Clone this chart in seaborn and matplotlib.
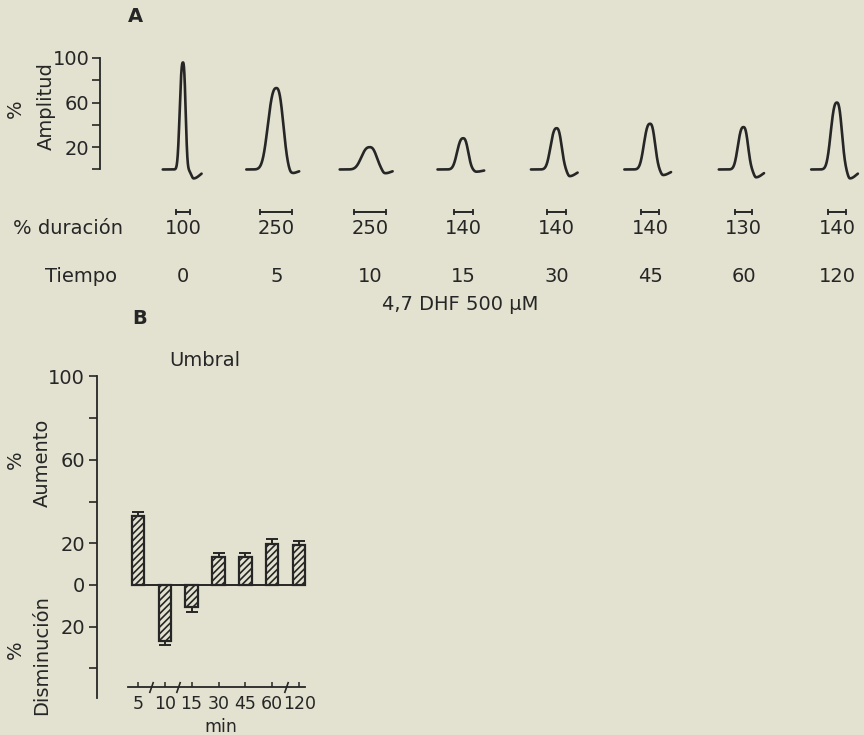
import numpy as np
import pandas as pd
import matplotlib
matplotlib.use("Agg")
import matplotlib.pyplot as plt
import seaborn as sns
from matplotlib.transforms import blended_transform_factory
from matplotlib.path import Path

# ---------------- data ----------------
# Panel A: action potentials after 4,7 DHF 500 uM
times = ["0", "5", "10", "15", "30", "45", "60", "120"]
amplitude = [96, 73, 20, 28, 37, 41, 38, 60]          # % amplitud
duration = [100, 250, 250, 140, 140, 140, 130, 140]   # % duración
undershoot = [8, 3.5, 3.5, 2, 6, 5, 7, 8]             # after-hyperpolarisation (%)

# Panel B: threshold change (Umbral)
thr_times = ["5", "10", "15", "30", "45", "60", "120"]
thr_change = [33, -27, -10.5, 13.3, 13.5, 19.8, 19.3]
thr_err = [1.9, 1.9, 2.4, 1.9, 1.9, 2.4, 1.6]

# ---------------- style ----------------
BG = "#e3e1cf"
INK = "#262626"
W, H = 864, 735

sns.set_theme(style="white")
plt.rcParams["font.family"] = ["DejaVu Sans"]
plt.rcParams["text.color"] = INK
plt.rcParams["hatch.linewidth"] = 1.2
plt.rcParams["hatch.color"] = INK

def fx(px):
    return px / W

def fy(py):
    return 1 - py / H

fig = plt.figure(figsize=(W / 100, H / 100), dpi=100, facecolor=BG)

# ---------------- Panel A ----------------
PX_A = 93.43  # pixels per slot
axA = fig.add_axes([fx(100), fy(186.2), fx(864) - fx(100), (186.2 - 52.4) / H])
axA.set_facecolor(BG)
axA.set_xlim(-0.888, 7.29)
axA.set_ylim(-15, 105)

P = 2.6
rows = []
for i, (amp, dur, und) in enumerate(zip(amplitude, duration, undershoot)):
    s = dur / 100
    ar = 10.8 * (1 - np.exp(-1.85 * (s - 0.75)))   # rise half-width scale (px)
    af = 0.82 * ar                                   # fall scale (px)
    c = 0.8 * af + 8
    lead = 1.55 * ar + 14
    tail = c + 8
    t = np.linspace(-lead, tail, 600)
    g = np.where(t < 0, np.exp(-(np.abs(t) / ar) ** P), np.exp(-(np.abs(t) / af) ** P))
    h = np.where(t < c, np.exp(-(t - c) ** 2 / (2 * 2.3 ** 2)),
                 np.exp(-(t - c) ** 2 / (2 * 6.5 ** 2)))
    y = amp * g - und * h
    rows.append(pd.DataFrame({"x": i + t / PX_A, "y": y, "trace": i}))
waves = pd.concat(rows, ignore_index=True)
sns.lineplot(data=waves, x="x", y="y", units="trace", estimator=None, sort=False,
             color=INK, lw=1.9, ax=axA, legend=False)

axA.set_xlabel("")
axA.set_ylabel("")
for sp in ["top", "right", "bottom"]:
    axA.spines[sp].set_visible(False)
axA.spines["left"].set_bounds(0, 100)
axA.spines["left"].set_color(INK)
axA.spines["left"].set_linewidth(1.3)
axA.set_xticks([])
axA.set_yticks([20, 60, 100])
axA.set_yticks([0, 40, 80], minor=True)
axA.tick_params(axis="y", which="both", direction="out", length=5.5, width=1.2,
                color=INK, labelsize=14, pad=2, left=True, labelcolor=INK)

trans = blended_transform_factory(axA.transData, fig.transFigure)
for i, (tm, dur) in enumerate(zip(times, duration)):
    wbar = (0.12 * dur + 2) / PX_A
    axA.plot([i - wbar / 2, i + wbar / 2], [fy(212), fy(212)], transform=trans,
             color=INK, lw=1.4, marker="|", ms=4, mew=1.3, clip_on=False)
    axA.text(i, fy(229), str(dur), transform=trans, ha="center", va="center",
             fontsize=14, color=INK)
    axA.text(i, fy(276), tm, transform=trans, ha="center", va="center",
             fontsize=14, color=INK)

fig.text(fx(13), fy(229), "% duración", ha="left", va="center", fontsize=14)
fig.text(fx(81), fy(276), "Tiempo", ha="center", va="center", fontsize=14)
fig.text(fx(460), fy(305), "4,7 DHF 500 µM", ha="center", va="center", fontsize=14)
fig.text(fx(135), fy(17), "A", ha="center", va="center", fontsize=14, fontweight="bold")
fig.text(fx(15), fy(109), "%", rotation=90, ha="center", va="center", fontsize=14)
fig.text(fx(46), fy(106), "Amplitud", rotation=90, ha="center", va="center", fontsize=14)

# ---------------- Panel B ----------------
PX_B = 26.9
x0B = 137.8
axB = fig.add_axes([fx(97), fy(710.1), fx(340) - fx(97), (710.1 - 370.2) / H])
axB.set_facecolor(BG)

thr = pd.DataFrame({"t": pd.Categorical(thr_times, categories=thr_times), "v": thr_change})
sns.barplot(data=thr, x="t", y="v", color=BG, saturation=1, edgecolor=INK,
            linewidth=1.6, width=0.46, hatch="/////", ax=axB, errorbar=None)

vals = np.array(thr_change)
errs = np.array(thr_err)
lower = np.where(vals < 0, errs, 0)
upper = np.where(vals > 0, errs, 0)
axB.errorbar(np.arange(len(vals)), vals, yerr=[lower, upper], fmt="none",
             ecolor=INK, elinewidth=1.4, capsize=4, capthick=1.4)
axB.hlines(0, -0.23, len(vals) - 1 + 0.26, color=INK, lw=1.4, zorder=3)

axB.set_xlim((97 - x0B) / PX_B, (340 - x0B) / PX_B)
axB.set_ylim(-60, 103)
axB.set_xlabel("")
axB.set_ylabel("")
for sp in ["top", "right"]:
    axB.spines[sp].set_visible(False)
axB.spines["left"].set_bounds(-54, 100)
axB.spines["left"].set_color(INK)
axB.spines["left"].set_linewidth(1.3)
axB.spines["bottom"].set_position(("data", -49))
axB.spines["bottom"].set_bounds((128 - x0B) / PX_B, (305 - x0B) / PX_B)
axB.spines["bottom"].set_color(INK)
axB.spines["bottom"].set_linewidth(1.3)

axB.set_yticks([100, 60, 20, 0, -20])
axB.set_yticklabels(["100", "60", "20", "0", "20"])
axB.set_yticks([80, 40, -40], minor=True)
axB.tick_params(axis="y", which="both", direction="out", length=5.5, width=1.2,
                color=INK, labelsize=14, pad=3, left=True, labelcolor=INK)
axB.set_xticks(np.arange(len(thr_times)))
axB.set_xticklabels(thr_times)
axB.tick_params(axis="x", direction="in", length=3.5, width=1.1, color=INK,
                labelsize=12.5, pad=5.5, bottom=True, labelcolor=INK)

brk = Path([(-0.35, -1.0), (0.35, 1.0)], [Path.MOVETO, Path.LINETO])
axB.plot([0.5, 1.5, 5.5], [-49, -49, -49], ls="none", marker=brk, ms=8,
         mew=1.2, color=INK, clip_on=False)

fig.text(fx(221), fy(727), "min", ha="center", va="center", fontsize=12.5)
fig.text(fx(140), fy(318), "B", ha="center", va="center", fontsize=14, fontweight="bold")
fig.text(fx(205), fy(360), "Umbral", ha="center", va="center", fontsize=14)
fig.text(fx(15), fy(460), "%", rotation=90, ha="center", va="center", fontsize=14)
fig.text(fx(42), fy(463), "Aumento", rotation=90, ha="center", va="center", fontsize=14)
fig.text(fx(15), fy(650), "%", rotation=90, ha="center", va="center", fontsize=14)
fig.text(fx(42), fy(655), "Disminución", rotation=90, ha="center", va="center", fontsize=14)

fig.savefig("out.png", dpi=100, facecolor=BG)
